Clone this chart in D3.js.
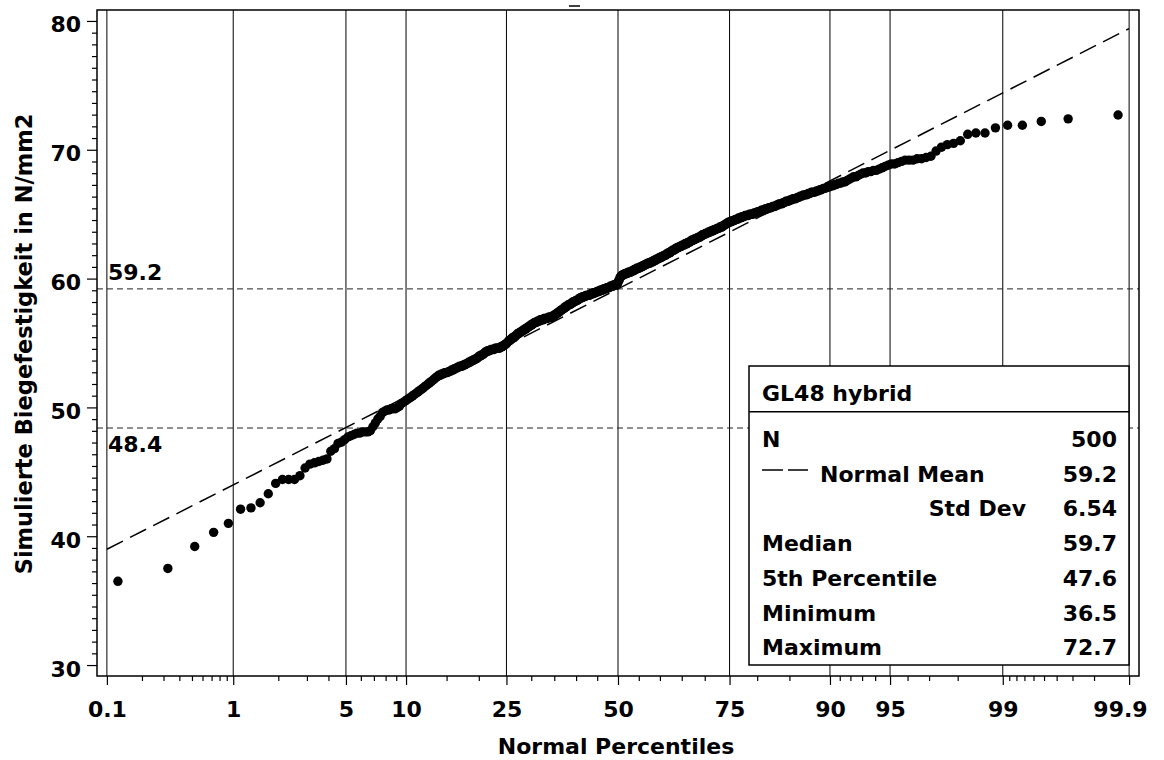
<!DOCTYPE html>
<html>
<head>
<meta charset="utf-8">
<script src="https://cdn.jsdelivr.net/npm/d3@7"></script>
<style>
  body { margin: 0; background: #fff; }
  text { font-family: "DejaVu Sans", sans-serif; font-weight: bold; font-size: 22px; fill: #000; }
</style>
</head>
<body>
<div id="chart"></div>
<script>
// sorted sample values (rank 1..500)
var strength = [
  36.5, 37.5, 39.2, 40.3, 41.0, 42.1, 42.2, 42.6, 43.3, 44.1,
  44.4, 44.4, 44.4, 44.7, 45.3, 45.6, 45.7, 45.8, 45.9, 46.0,
  46.6, 46.8, 47.2, 47.3, 47.5, 47.7, 47.8, 47.9, 48.0, 48.0,
  48.1, 48.1, 48.1, 48.2, 48.5, 48.8, 49.1, 49.3, 49.6, 49.7,
  49.8, 49.8, 49.9, 49.9, 49.9, 50.0, 50.1, 50.3, 50.4, 50.5,
  50.6, 50.7, 50.8, 50.9, 51.0, 51.1, 51.2, 51.3, 51.4, 51.5,
  51.6, 51.7, 51.8, 51.9, 52.0, 52.1, 52.2, 52.3, 52.4, 52.5,
  52.5, 52.6, 52.6, 52.7, 52.7, 52.7, 52.8, 52.8, 52.9, 52.9,
  53.0, 53.0, 53.1, 53.1, 53.2, 53.2, 53.2, 53.3, 53.3, 53.4,
  53.4, 53.5, 53.5, 53.6, 53.6, 53.7, 53.7, 53.8, 53.8, 53.9,
  54.0, 54.0, 54.1, 54.1, 54.2, 54.3, 54.3, 54.4, 54.4, 54.4,
  54.5, 54.5, 54.5, 54.5, 54.6, 54.6, 54.6, 54.6, 54.6, 54.7,
  54.7, 54.8, 54.8, 54.9, 54.9, 55.0, 55.1, 55.2, 55.2, 55.3,
  55.4, 55.4, 55.5, 55.5, 55.6, 55.7, 55.7, 55.8, 55.8, 55.9,
  55.9, 56.0, 56.0, 56.1, 56.1, 56.2, 56.2, 56.3, 56.3, 56.4,
  56.4, 56.5, 56.5, 56.6, 56.6, 56.6, 56.7, 56.7, 56.7, 56.8,
  56.8, 56.8, 56.8, 56.9, 56.9, 56.9, 56.9, 56.9, 57.0, 57.0,
  57.0, 57.0, 57.0, 57.1, 57.1, 57.2, 57.2, 57.3, 57.3, 57.4,
  57.4, 57.5, 57.5, 57.6, 57.6, 57.7, 57.7, 57.8, 57.8, 57.9,
  57.9, 58.0, 58.0, 58.0, 58.1, 58.1, 58.2, 58.2, 58.2, 58.3,
  58.3, 58.3, 58.4, 58.4, 58.5, 58.5, 58.5, 58.6, 58.6, 58.6,
  58.6, 58.7, 58.7, 58.7, 58.7, 58.7, 58.8, 58.8, 58.8, 58.8,
  58.9, 58.9, 58.9, 58.9, 59.0, 59.0, 59.0, 59.0, 59.1, 59.1,
  59.1, 59.1, 59.2, 59.2, 59.2, 59.2, 59.3, 59.3, 59.3, 59.3,
  59.4, 59.4, 59.4, 59.4, 59.5, 59.5, 59.5, 59.5, 59.6, 59.6,
  59.8, 59.9, 60.1, 60.2, 60.2, 60.3, 60.3, 60.3, 60.4, 60.4,
  60.4, 60.4, 60.5, 60.5, 60.5, 60.5, 60.6, 60.6, 60.6, 60.7,
  60.7, 60.7, 60.8, 60.8, 60.8, 60.8, 60.9, 60.9, 60.9, 61.0,
  61.0, 61.0, 61.1, 61.1, 61.1, 61.2, 61.2, 61.2, 61.2, 61.3,
  61.3, 61.3, 61.4, 61.4, 61.4, 61.5, 61.5, 61.5, 61.6, 61.6,
  61.6, 61.7, 61.7, 61.7, 61.8, 61.8, 61.8, 61.9, 61.9, 62.0,
  62.0, 62.0, 62.1, 62.1, 62.2, 62.2, 62.2, 62.3, 62.3, 62.4,
  62.4, 62.4, 62.5, 62.5, 62.5, 62.6, 62.6, 62.6, 62.7, 62.7,
  62.7, 62.8, 62.8, 62.8, 62.9, 62.9, 63.0, 63.0, 63.0, 63.1,
  63.1, 63.1, 63.2, 63.2, 63.2, 63.3, 63.3, 63.4, 63.4, 63.4,
  63.5, 63.5, 63.5, 63.6, 63.6, 63.6, 63.7, 63.7, 63.7, 63.8,
  63.8, 63.8, 63.9, 63.9, 63.9, 64.0, 64.0, 64.0, 64.1, 64.1,
  64.2, 64.2, 64.3, 64.3, 64.4, 64.4, 64.4, 64.5, 64.5, 64.5,
  64.6, 64.6, 64.6, 64.7, 64.7, 64.7, 64.8, 64.8, 64.8, 64.9,
  64.9, 64.9, 64.9, 65.0, 65.0, 65.0, 65.0, 65.1, 65.1, 65.1,
  65.2, 65.2, 65.2, 65.3, 65.3, 65.3, 65.4, 65.4, 65.4, 65.5,
  65.5, 65.5, 65.6, 65.6, 65.6, 65.7, 65.7, 65.8, 65.8, 65.8,
  65.9, 65.9, 66.0, 66.0, 66.0, 66.1, 66.1, 66.2, 66.2, 66.2,
  66.3, 66.3, 66.4, 66.4, 66.5, 66.5, 66.5, 66.6, 66.6, 66.7,
  66.7, 66.7, 66.8, 66.8, 66.9, 66.9, 67.0, 67.0, 67.1, 67.1,
  67.2, 67.2, 67.3, 67.3, 67.4, 67.4, 67.5, 67.5, 67.6, 67.7,
  67.8, 67.9, 67.9, 68.0, 68.1, 68.2, 68.2, 68.3, 68.3, 68.4,
  68.4, 68.5, 68.6, 68.7, 68.8, 68.9, 68.9, 69.0, 69.1, 69.2,
  69.2, 69.2, 69.3, 69.3, 69.4, 69.5, 69.9, 70.2, 70.4, 70.5,
  70.7, 71.2, 71.3, 71.3, 71.7, 71.9, 71.9, 72.2, 72.4, 72.7
];

// axis ticks
var percentTicks = [0.1, 1, 5, 10, 25, 50, 75, 90, 95, 99, 99.9];
var percentLabels = ["0.1", "1", "5", "10", "25", "50", "75", "90", "95", "99", "99.9"];
var percentMinor = [0.2, 0.3, 0.4, 0.5, 0.6, 0.7, 0.8, 0.9, 2, 3, 4, 6, 7, 8, 9, 15, 20,
  30, 35, 40, 45, 55, 60, 65, 70, 80, 85, 91, 92, 93, 94, 96, 97, 98,
  99.1, 99.2, 99.3, 99.4, 99.5, 99.6, 99.7, 99.8];
var yTicks = [30, 40, 50, 60, 70, 80];

// normal fit and reference lines
var fitMean = 59.2, fitStd = 6.54;
var fitPercents = [0.1, 99.9];
var refValues = [59.2, 48.4];
var refLabels = ["59.2", "48.4"];

// inset table
var insetTitle = "GL48 hybrid";
var insetLabels = ["N", "Normal Mean", "Std Dev", "Median", "5th Percentile", "Minimum", "Maximum"];
var insetValues = ["500", "59.2", "6.54", "59.7", "47.6", "36.5", "72.7"];

// inverse normal cdf (Acklam)
function probit(p) {
  var a = [-3.969683028665376e+01, 2.209460984245205e+02, -2.759285104469687e+02, 1.383577518672690e+02, -3.066479806614716e+01, 2.506628277459239e+00];
  var b = [-5.447609879822406e+01, 1.615858368580409e+02, -1.556989798598866e+02, 6.680131188771972e+01, -1.328068155288572e+01];
  var c = [-7.784894002430293e-03, -3.223964580411365e-01, -2.400758277161838e+00, -2.549732539343734e+00, 4.374664141464968e+00, 2.938163982698783e+00];
  var d = [7.784695709041462e-03, 3.224671290700398e-01, 2.445134137142996e+00, 3.754408661907416e+00];
  var q, r;
  if (p < 0.02425) {
    q = Math.sqrt(-2 * Math.log(p));
    return (((((c[0]*q+c[1])*q+c[2])*q+c[3])*q+c[4])*q+c[5]) / ((((d[0]*q+d[1])*q+d[2])*q+d[3])*q+1);
  } else if (p > 1 - 0.02425) {
    q = Math.sqrt(-2 * Math.log(1 - p));
    return -(((((c[0]*q+c[1])*q+c[2])*q+c[3])*q+c[4])*q+c[5]) / ((((d[0]*q+d[1])*q+d[2])*q+d[3])*q+1);
  }
  q = p - 0.5; r = q * q;
  return (((((a[0]*r+a[1])*r+a[2])*r+a[3])*r+a[4])*r+a[5])*q / (((((b[0]*r+b[1])*r+b[2])*r+b[3])*r+b[4])*r+1);
}

// set the dimensions and margins of the graph
var margin = {top: 10, right: 25, bottom: 84, left: 97},
  width = 1139 - margin.left,
  height = 676 - margin.top;

var svg = d3.select("#chart")
.append("svg")
  .attr("width", 1164)
  .attr("height", 760)
.append("g")
  .attr("transform", "translate(" + margin.left + "," + margin.top + ")");

// scales: x is the normal quantile
var x = d3.scaleLinear().domain([-3.15, 3.15]).range([0, width]);
var y = d3.scaleLinear().domain([29.15, 80.85]).range([height, 0]);
var xp = function(pct) { return x(probit(pct / 100)); };

// vertical grid lines
svg.append("g")
  .selectAll("line")
  .data(percentTicks)
  .enter().append("line")
    .attr("x1", d => xp(d)).attr("x2", d => xp(d))
    .attr("y1", 0).attr("y2", height)
    .style("stroke", "#000")
    .style("stroke-width", 1);

// horizontal reference lines
svg.append("g")
  .selectAll("line")
  .data(refValues)
  .enter().append("line")
    .attr("x1", 0).attr("x2", width)
    .attr("y1", d => y(d)).attr("y2", d => y(d))
    .style("stroke", "#222")
    .style("stroke-width", 1)
    .style("stroke-dasharray", "6,4");

svg.append("text").attr("x", 11).attr("y", y(refValues[0]) - 9).text(refLabels[0]);
svg.append("text").attr("x", 11).attr("y", y(refValues[1]) + 24).text(refLabels[1]);

// fitted normal line
var line = d3.line()
  .x(d => xp(d))
  .y(d => y(fitMean + fitStd * probit(d / 100)));
svg.append("path")
  .datum(fitPercents)
  .attr("d", line)
  .style("fill", "none")
  .style("stroke", "#000")
  .style("stroke-width", 1.5)
  .style("stroke-dasharray", "18,8");

// points at Blom plotting positions
var n = strength.length;
svg.append("g")
  .selectAll("circle")
  .data(strength)
  .enter().append("circle")
    .attr("cx", (d, i) => x(probit((i + 1 - 0.375) / (n + 0.25))))
    .attr("cy", d => y(d))
    .attr("r", 4.7)
    .style("fill", "#000");

// X axis
var xAxis = svg.append("g")
  .attr("transform", "translate(0," + height + ")")
  .call(d3.axisBottom(x)
    .tickValues(percentTicks.map(d => probit(d / 100)))
    .tickFormat((d, i) => percentLabels[i])
    .tickSize(9)
    .tickPadding(16));
xAxis.select(".domain").remove();
xAxis.attr("font-family", null).attr("font-size", null);
xAxis.selectAll("line").style("stroke", "#000").style("stroke-width", 1.2);
xAxis.selectAll("text").attr("dy", null).attr("y", 41);
// last label is pushed left so it stays inside the page
xAxis.selectAll("text").filter((d, i) => i === percentTicks.length - 1)
  .attr("text-anchor", "end")
  .attr("x", 18);

var xMinor = svg.append("g")
  .attr("transform", "translate(0," + height + ")")
  .call(d3.axisBottom(x)
    .tickValues(percentMinor.map(d => probit(d / 100)))
    .tickFormat("")
    .tickSize(5));
xMinor.select(".domain").remove();
xMinor.selectAll("line").style("stroke", "#000").style("stroke-width", 1.2);

// Y axis
var yAxis = svg.append("g")
  .call(d3.axisLeft(y).tickValues(yTicks).tickSize(10).tickPadding(6));
yAxis.select(".domain").remove();
yAxis.attr("font-family", null).attr("font-size", null);
yAxis.selectAll("line").style("stroke", "#000").style("stroke-width", 1.2);
yAxis.selectAll("text").attr("dy", null).attr("y", 11).attr("x", -16);

var yMinorVals = [];
for (var k = 0; k < yTicks.length - 1; k++) {
  for (var m = 1; m <= 10; m++) yMinorVals.push(yTicks[k] + m * (yTicks[k + 1] - yTicks[k]) / 11);
}
var yMinor = svg.append("g")
  .call(d3.axisLeft(y).tickValues(yMinorVals).tickFormat("").tickSize(5));
yMinor.select(".domain").remove();
yMinor.selectAll("line").style("stroke", "#000").style("stroke-width", 1.2);

// frame
svg.append("rect")
  .attr("width", width).attr("height", height)
  .style("fill", "none")
  .style("stroke", "#000")
  .style("stroke-width", 1.5);

// axis titles
svg.append("text")
  .attr("x", width / 2 - 2)
  .attr("y", 744)
  .attr("text-anchor", "middle")
  .text("Normal Percentiles");

svg.append("text")
  .attr("transform", "translate(-65," + (344 - margin.top) + ") rotate(-90)")
  .attr("text-anchor", "middle")
  .style("font-size", "22.5px")
  .text("Simulierte Biegefestigkeit in N/mm2");

// empty title mark at the top
svg.append("line")
  .attr("x1", 472).attr("x2", 483)
  .attr("y1", -4).attr("y2", -4)
  .style("stroke", "#000").style("stroke-width", 1.5);

// inset table
var inset = svg.append("g").attr("transform", "translate(" + (749 - margin.left) + "," + (366 - margin.top) + ")");
var insetW = 380, insetH = 299, rowStep = 34.7;
inset.append("rect")
  .attr("width", insetW).attr("height", insetH)
  .style("fill", "#fff")
  .style("stroke", "#000")
  .style("stroke-width", 1.5);
inset.append("line")
  .attr("x1", 0).attr("x2", insetW)
  .attr("y1", 45.7).attr("y2", 45.7)
  .style("stroke", "#000").style("stroke-width", 1.5);
inset.append("text").attr("x", 13).attr("y", 34.5).text(insetTitle);

inset.selectAll(".lab")
  .data(insetLabels)
  .enter().append("text")
    .attr("class", "lab")
    .attr("x", (d, i) => i === 1 ? 71 : (i === 2 ? 277 : 13))
    .attr("y", (d, i) => 81 + i * rowStep)
    .attr("text-anchor", (d, i) => i === 2 ? "end" : "start")
    .text(d => d);

inset.selectAll(".val")
  .data(insetValues)
  .enter().append("text")
    .attr("class", "val")
    .attr("x", 368)
    .attr("y", (d, i) => 81 + i * rowStep)
    .attr("text-anchor", "end")
    .text(d => d);

// dashed sample for the normal fit
inset.append("line")
  .attr("x1", 13).attr("x2", 59)
  .attr("y1", 104).attr("y2", 104)
  .style("stroke", "#000")
  .style("stroke-width", 1.5)
  .style("stroke-dasharray", "21,5");
</script>
</body>
</html>
